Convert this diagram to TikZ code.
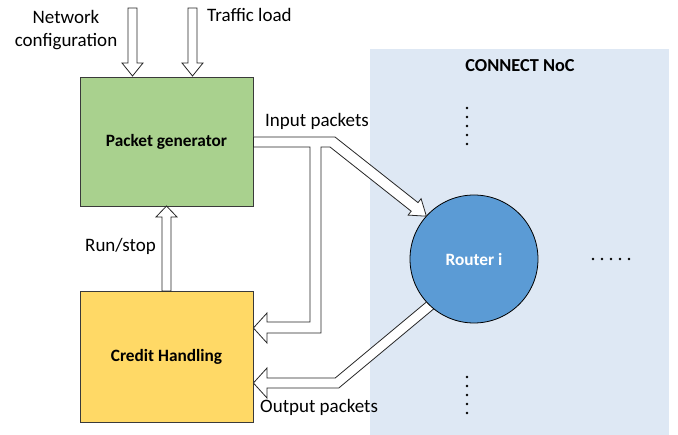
\documentclass[tikz,border=0pt]{standalone}
\usepackage{fontspec}
\setmainfont{Carlito}
\usetikzlibrary{calc}
\definecolor{gengreen}{HTML}{A9D18E}
\definecolor{credyellow}{HTML}{FFD966}
\definecolor{routerblue}{HTML}{5B9BD5}
\definecolor{nocbg}{HTML}{DEE8F4}
\definecolor{edgegray}{HTML}{3A3A3A}

% vertical block arrow: x centre, tail y, head-base y, tip y
\newcommand{\vblockarrow}[4]{%
  \draw[blockarrow] (#1-4.5,#2) -- (#1-4.5,#3) -- (#1-10.5,#3) -- (#1,#4)
    -- (#1+10.5,#3) -- (#1+4.5,#3) -- (#1+4.5,#2) -- cycle;}

\begin{document}
\begin{tikzpicture}[x=1pt,y=-1pt,
  blockbox/.style={draw=edgegray, line width=0.8pt, minimum width=173pt,
    inner sep=0pt, font=\fontsize{17.3}{20}\selectfont\bfseries},
  blockarrow/.style={draw=black!85, fill=white, line width=0.8pt, line join=miter},
  lbl/.style={font=\fontsize{19}{23}\selectfont, inner sep=0pt},
  dotmark/.style={circle, fill=black, inner sep=0pt, minimum size=2.8pt}]
\useasboundingbox (0,0) rectangle (678,435);

% network-on-chip region
\fill[nocbg] (370,49) rectangle (669,435);
\node[font=\fontsize{18.3}{20}\selectfont\bfseries, anchor=base, inner sep=0pt]
  (noc) at (520,72) {CONNECT NoC};

% traffic source blocks
\node[blockbox, fill=gengreen, minimum height=129pt] (gen) at (166.5,141.5) {Packet generator};
\node[blockbox, fill=credyellow, minimum height=131pt] (cred) at (166.5,356.5) {Credit Handling};

% external inputs
\vblockarrow{132.5}{8}{63}{76}
\vblockarrow{192.5}{8}{63}{76}
\node[lbl, align=center] (netcfg) at (66,30) {Network\\configuration};
\node[lbl, anchor=base west] (traffic) at (207,22) {Traffic load};

% run/stop feedback
\vblockarrow{166.5}{291}{217}{206}
\node[lbl, anchor=base west] (runstop) at (85,252) {Run/stop};

% output packets back to credit handling
\draw[blockarrow] (437.5,292.8) -- (335.2,378) -- (267,378) -- (267,368)
  -- (cred.east |- 0,383) -- (267,398) -- (267,388) -- (338.8,388)
  -- (443.9,300.4) -- cycle;

% router
\node[circle, draw=black, line width=0.8pt, fill=routerblue, minimum size=128pt,
  inner sep=0pt, text=white, font=\fontsize{17.3}{20}\selectfont\bfseries]
  (router) at (474,259) {Router i};

% input packets to router, with branch to credit handling
\draw[blockarrow] (gen.east |- 0,137) -- (335,137) -- (418.0,202.6) -- (421.1,198.7)
  -- (426.4,216.2) -- (408.1,215.1) -- (411.2,211.2) -- (330,147) -- (321,147)
  -- (321,333) -- (267,333) -- (267,343) -- (cred.east |- 0,328) -- (267,313)
  -- (267,322) -- (310,322) -- (310,147) -- (gen.east |- 0,147) -- cycle;
\node[lbl, anchor=base west] (inlbl) at (265,127) {Input packets};
\node[lbl, anchor=base west] (outlbl) at (260,413) {Output packets};

% further routers, elided
\foreach \yy [count=\i] in {108,117,126,135,144}
  \node[dotmark] (up\i) at (467,\yy) {};
\foreach \yy [count=\i] in {377,386,395,404,413}
  \node[dotmark] (dn\i) at (467,\yy) {};
\foreach \xx [count=\i] in {593,602,611,620,629}
  \node[dotmark] (rt\i) at (\xx,259) {};
\end{tikzpicture}
\end{document}
